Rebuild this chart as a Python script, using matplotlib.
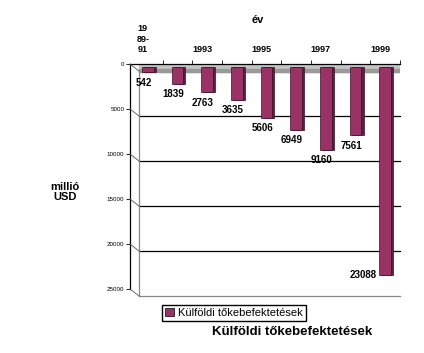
import numpy as np
import matplotlib
matplotlib.use('Agg')
import matplotlib.pyplot as plt
from matplotlib.patches import Patch
from matplotlib.transforms import ScaledTranslation

plt.rcParams['font.family'] = ['Liberation Sans', 'DejaVu Sans']

# data
categories = ['19\n89-\n91', '1992', '1993', '1994', '1995', '1996', '1997', '1998', '1999']
values = [542, 1839, 2763, 3635, 5606, 6949, 9160, 7561, 23088]
y_ticks = [0, 5000, 10000, 15000, 20000, 25000]
series_name = 'Külföldi tőkebefektetések'

bar_col = '#993366'
side_col = '#5c1f3d'

fig = plt.figure(figsize=(4.24, 3.53), dpi=100)
ax = fig.add_axes([130 / 424, (353 - 289) / 353, 270 / 424, 225 / 353])

x = np.arange(len(categories))
ax.set_xlim(-0.6, len(categories) - 0.6)
ax.set_ylim(25000, 0)

# 3D-ish back wall, floor and gridlines (shifted a few pixels)
shift = ScaledTranslation(0, -0.07, fig.dpi_scale_trans)
ytr = ax.get_yaxis_transform()
wall_x = 9 / 270
for t in y_ticks[1:-1]:
    ax.plot([wall_x, 1], [t, t], transform=ytr + shift, color='black', lw=0.9, clip_on=False)
for t in y_ticks:
    ax.plot([0, wall_x], [t, t], transform=ytr, color='black', lw=0.6, clip_on=False,
            alpha=0)
    # diagonal connector from axis tick to wall
    x0, y0 = ax.transAxes.transform((0, 0))[0], ax.transData.transform((0, t))[1]
    x1 = ax.transAxes.transform((wall_x, 0))[0]
    fig.add_artist(plt.Line2D([x0 / 424, x1 / 424], [y0 / 353, (y0 - 7) / 353],
                              transform=fig.transFigure, color='#555555', lw=0.6))
ax.plot([wall_x, wall_x], [0, 25000], transform=ytr + shift, color='#888888', lw=0.9, clip_on=False)
ax.plot([wall_x, 1], [25000, 25000], transform=ytr + shift, color='#888888', lw=0.9, clip_on=False)
ax.axhspan(0, 900, xmin=wall_x, xmax=1, color='#c4c4c4', zorder=1)
ax.axhspan(600, 900, xmin=wall_x, xmax=1, color='#9a9a9a', zorder=1)

# bars with darker side/bottom
ax.bar(x + 0.07, values, width=0.4, bottom=350, color=side_col, edgecolor='#3a1026', lw=0.5, zorder=2)
ax.bar(x, values, width=0.4, bottom=350, color=bar_col, edgecolor='#3a1026', lw=0.5, zorder=3)

# value labels
for i, v in enumerate(values):
    if i == len(values) - 1:
        ax.annotate(f'{v}', xy=(i, v + 350), xytext=(-6, 0), textcoords='offset points',
                    ha='right', va='center', fontsize=7, fontweight='bold', zorder=4)
    else:
        ax.annotate(f'{v}', xy=(i, v + 350), xytext=(-3, -4), textcoords='offset points',
                    ha='center', va='top', fontsize=7, fontweight='bold', zorder=4)

# axes styling
for s in ['right', 'bottom']:
    ax.spines[s].set_visible(False)
ax.spines['left'].set_linewidth(0.9)
ax.spines['top'].set_linewidth(0.9)

ax.set_yticks(y_ticks)
ax.set_yticklabels([str(t) for t in y_ticks], fontsize=4.5)
ax.tick_params(axis='y', length=3, width=0.6, pad=1)

ax.xaxis.tick_top()
ax.set_xticks(x[::2])
ax.set_xticklabels(categories[::2], fontsize=6.5, fontweight='bold', va='bottom')
ax.set_xticks(np.arange(-0.5, len(categories) - 1, 1) + 1, minor=True)
ax.tick_params(axis='x', which='major', length=0, pad=7)
ax.tick_params(axis='x', which='minor', length=3, width=0.6, top=True, bottom=False)
for lab in ax.get_xticklabels():
    lab.set_transform(lab.get_transform() + ScaledTranslation(-0.05, 0, fig.dpi_scale_trans))

fig.text(258 / 424, 1 - 20 / 353, 'év', ha='center', va='center', fontsize=8, fontweight='bold')
fig.text(65 / 424, 1 - 192 / 353, 'millió\nUSD', ha='center', va='center', fontsize=8,
         fontweight='bold', linespacing=1.0)

fig.legend(handles=[Patch(facecolor=bar_col, edgecolor='black', lw=0.5, label=series_name)],
           loc='center', bbox_to_anchor=(234 / 424, 1 - 313 / 353), fontsize=8,
           frameon=True, fancybox=False, edgecolor='black', framealpha=1,
           handlelength=0.8, handleheight=0.8, handletextpad=0.4, borderpad=0.3)

fig.text(292 / 424, 1 - 332 / 353, series_name, ha='center', va='center', fontsize=9.5,
         fontweight='bold')

fig.savefig('out.png', dpi=100)
